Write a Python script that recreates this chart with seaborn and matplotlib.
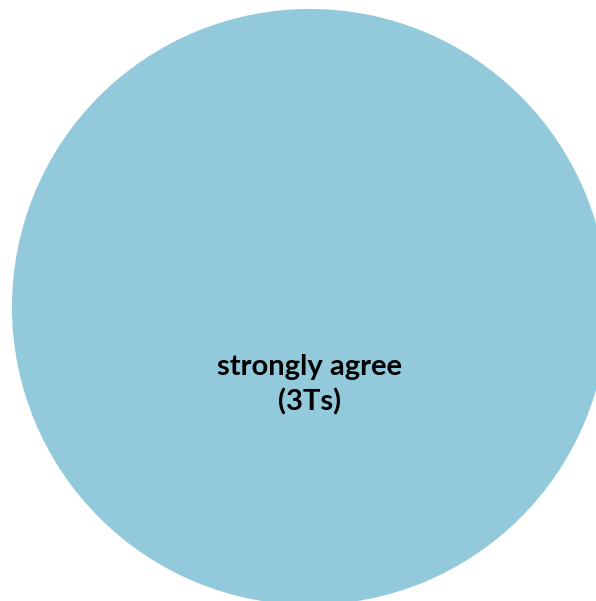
import matplotlib
matplotlib.use("Agg")
import matplotlib.pyplot as plt
import seaborn as sns

labels = ["strongly agree\n(3Ts)"]
values = [100]
colors = ["#92CADC"]

sns.set_style("white")
plt.rcParams['font.family'] = ['Lato', 'DejaVu Sans']

fig = plt.figure(figsize=(5.96, 6.01), dpi=100)
ax = fig.add_axes([0, 0, 1, 1])

ax.pie(values, labels=labels, colors=colors, startangle=90,
       labeldistance=0.262, radius=1,
       wedgeprops={'linewidth': 0},
       textprops={'ha': 'center', 'va': 'center', 'fontsize': 21,
                  'fontweight': 'bold', 'color': 'black',
                  'multialignment': 'center', 'linespacing': 1.38})

ax.set_xlim(-1.040, 0.960)
ax.set_ylim(-0.987, 1.030)
ax.set_aspect('equal')
ax.axis('off')

fig.savefig("out.png", dpi=100)
